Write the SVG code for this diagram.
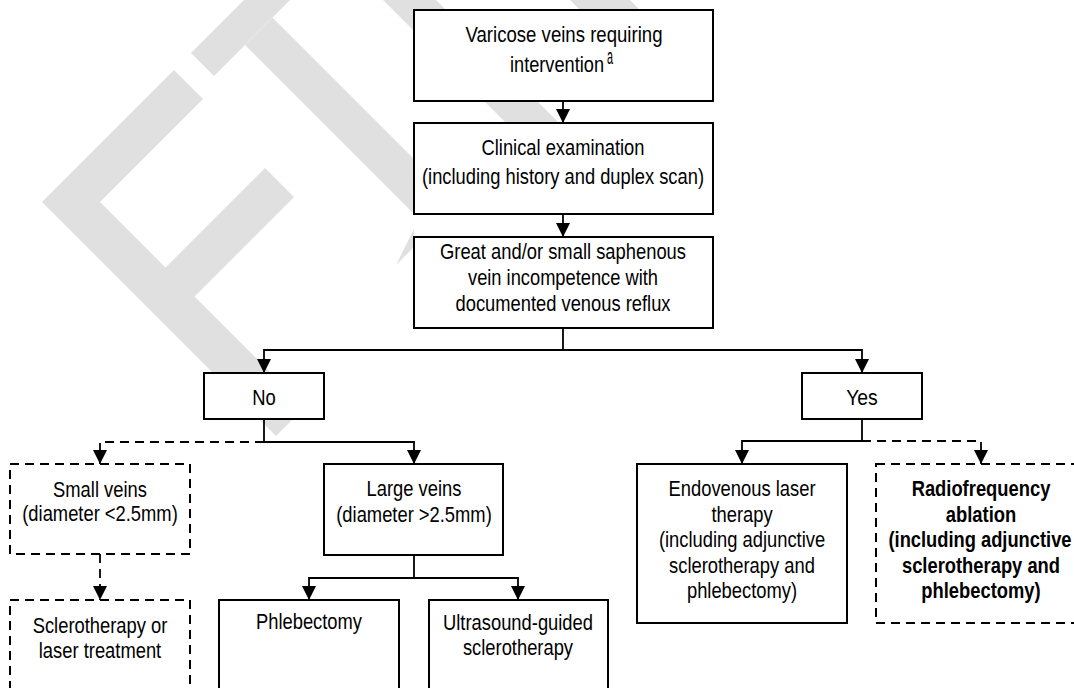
<svg xmlns="http://www.w3.org/2000/svg" width="1074" height="688" viewBox="0 0 1074 688">
  <style>
    .wm { fill: #e0e0e0; }
    .box { fill: #ffffff; stroke: #000000; stroke-width: 2; }
    .dbox { fill: #ffffff; stroke: #000000; stroke-width: 2; stroke-dasharray: 9 6; }
    .line { fill: none; stroke: #000000; stroke-width: 1.8; }
    .arr { fill: none; stroke: #000000; stroke-width: 1.8; marker-end: url(#ah); }
    .darr { fill: none; stroke: #000000; stroke-width: 1.8; stroke-dasharray: 9 6; marker-end: url(#ah); }
    text { font-family: "Liberation Sans", Arial, sans-serif; font-size: 22px; fill: #000000; text-anchor: middle; }
    .b { font-weight: bold; }
  </style>
  <defs>
    <marker id="ah" markerUnits="userSpaceOnUse" markerWidth="14" markerHeight="14" refX="14" refY="7" orient="auto">
      <path d="M0,0 L14,7 L0,14 z" fill="#000000"/>
    </marker>
  </defs>
  <rect x="0" y="0" width="1074" height="688" fill="#ffffff"/>

  <g id="watermark">
    <polygon class="wm" points="42,202 174,70 203,99 100,202 165.5,267.5 265,168 294,197 194.5,296.5 305,407 276,436"/>
    <polygon class="wm" points="191,53 214,76 303.5,-13.5 280.5,-36.5"/>
    <polygon class="wm" points="245,45 272.5,17.5 440,185 412.5,212.5"/>
    <polygon class="wm" points="371.5,-11.5 398,-38 578,142 551.5,168.5"/>
    <polygon class="wm" points="570,0 630,0 655,25 625,55"/>
    <polygon class="wm" points="396,265 414,247 414,229"/>
  </g>

  <g id="connectors">
    <path class="arr" d="M563,101 V123"/>
    <path class="arr" d="M563,214 V237"/>
    <path class="arr" d="M563,328 V350 H264 V373"/>
    <path class="arr" d="M563,350 H862 V373"/>
    <path class="line" d="M264,419 V442"/>
    <path class="darr" d="M264,442 H100 V464"/>
    <path class="arr" d="M264,442 H414 V464"/>
    <path class="darr" d="M100,554 V600"/>
    <path class="arr" d="M414,555 V578 H309 V600"/>
    <path class="arr" d="M414,578 H518 V600"/>
    <path class="arr" d="M862,419 V441 H742 V464"/>
    <path class="darr" d="M862,441 H981 V464"/>
  </g>

  <g id="n-varicose">
    <rect class="box" x="414" y="10" width="299" height="91"/>
    <text x="564" y="42" textLength="197" lengthAdjust="spacingAndGlyphs">Varicose veins requiring</text>
    <text x="557" y="72" textLength="94" lengthAdjust="spacingAndGlyphs">intervention</text>
    <text x="610" y="64" font-size="12" textLength="6" lengthAdjust="spacingAndGlyphs">a</text>
  </g>
  <g id="n-clinical">
    <rect class="box" x="414" y="123" width="299" height="91"/>
    <text x="563" y="155" textLength="163" lengthAdjust="spacingAndGlyphs">Clinical examination</text>
    <text x="563" y="184" textLength="282" lengthAdjust="spacingAndGlyphs">(including history and duplex scan)</text>
  </g>
  <g id="n-great">
    <rect class="box" x="414" y="237" width="299" height="91"/>
    <text x="563" y="259" textLength="246" lengthAdjust="spacingAndGlyphs">Great and/or small saphenous</text>
    <text x="563" y="285" textLength="190" lengthAdjust="spacingAndGlyphs">vein incompetence with</text>
    <text x="563" y="311" textLength="215" lengthAdjust="spacingAndGlyphs">documented venous reflux</text>
  </g>
  <g id="n-no">
    <rect class="box" x="204" y="373" width="120" height="46"/>
    <text x="264" y="405" textLength="23.5" lengthAdjust="spacingAndGlyphs">No</text>
  </g>
  <g id="n-yes">
    <rect class="box" x="802" y="373" width="120" height="46"/>
    <text x="862" y="405" textLength="31.6" lengthAdjust="spacingAndGlyphs">Yes</text>
  </g>
  <g id="n-small">
    <rect class="dbox" x="10" y="464" width="180" height="90"/>
    <text x="100" y="497" textLength="93.8" lengthAdjust="spacingAndGlyphs">Small veins</text>
    <text x="100" y="521" textLength="155.5" lengthAdjust="spacingAndGlyphs">(diameter &lt;2.5mm)</text>
  </g>
  <g id="n-large">
    <rect class="box" x="324" y="464" width="179" height="91"/>
    <text x="414" y="496" textLength="94.9" lengthAdjust="spacingAndGlyphs">Large veins</text>
    <text x="414" y="522" textLength="155.5" lengthAdjust="spacingAndGlyphs">(diameter &gt;2.5mm)</text>
  </g>
  <g id="n-endovenous">
    <rect class="box" x="637" y="464" width="210" height="159"/>
    <text x="742" y="496" textLength="147" lengthAdjust="spacingAndGlyphs">Endovenous laser</text>
    <text x="742" y="522" textLength="61.2" lengthAdjust="spacingAndGlyphs">therapy</text>
    <text x="742" y="547" textLength="166.2" lengthAdjust="spacingAndGlyphs">(including adjunctive</text>
    <text x="742" y="573" textLength="145.8" lengthAdjust="spacingAndGlyphs">sclerotherapy and</text>
    <text x="742" y="598" textLength="110.1" lengthAdjust="spacingAndGlyphs">phlebectomy)</text>
  </g>
  <g id="n-radiofrequency">
    <rect class="dbox" x="876" y="464" width="210" height="159"/>
    <text class="b" x="981" y="496" textLength="138.7" lengthAdjust="spacingAndGlyphs">Radiofrequency</text>
    <text class="b" x="981" y="522" textLength="70.4" lengthAdjust="spacingAndGlyphs">ablation</text>
    <text class="b" x="980" y="547" textLength="183" lengthAdjust="spacingAndGlyphs">(including adjunctive</text>
    <text class="b" x="981" y="573" textLength="158.1" lengthAdjust="spacingAndGlyphs">sclerotherapy and</text>
    <text class="b" x="981" y="598" textLength="119.3" lengthAdjust="spacingAndGlyphs">phlebectomy)</text>
  </g>
  <g id="n-sclero">
    <rect class="dbox" x="10" y="600" width="180" height="120"/>
    <text x="100" y="633" textLength="134.6" lengthAdjust="spacingAndGlyphs">Sclerotherapy or</text>
    <text x="100" y="658" textLength="122.4" lengthAdjust="spacingAndGlyphs">laser treatment</text>
  </g>
  <g id="n-phlebectomy">
    <rect class="box" x="219" y="600" width="180" height="120"/>
    <text x="309" y="629" textLength="106" lengthAdjust="spacingAndGlyphs">Phlebectomy</text>
  </g>
  <g id="n-ultrasound">
    <rect class="box" x="429" y="600" width="179" height="120"/>
    <text x="518" y="630" textLength="150" lengthAdjust="spacingAndGlyphs">Ultrasound-guided</text>
    <text x="518" y="655" textLength="110.1" lengthAdjust="spacingAndGlyphs">sclerotherapy</text>
  </g>
</svg>
